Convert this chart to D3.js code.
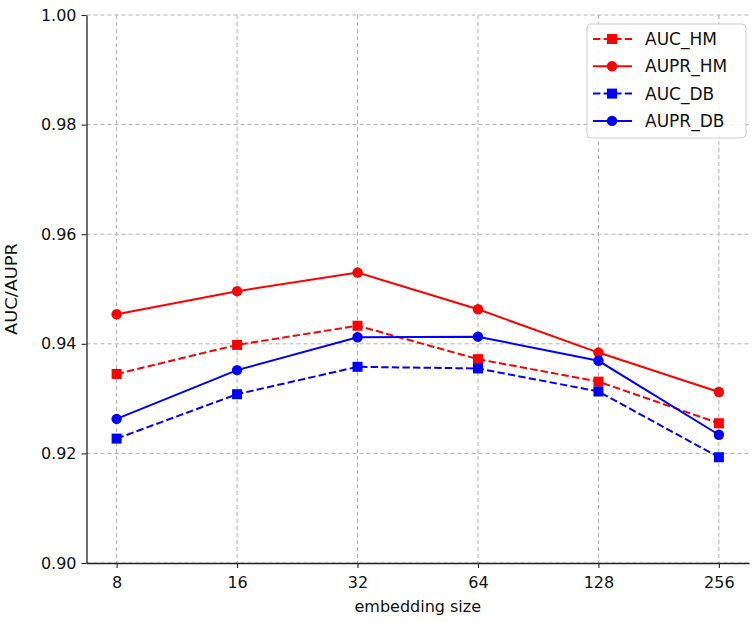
<!DOCTYPE html>
<html>
<head>
<meta charset="utf-8">
<script src="https://cdn.jsdelivr.net/npm/d3@7"></script>
<style>
  body { margin: 0; background: #fff; }
  svg { display: block; font-family: "DejaVu Sans", sans-serif; }
</style>
</head>
<body>
<svg id="chart" width="753" height="622"></svg>
<script>
// data
const sizes = ["8", "16", "32", "64", "128", "256"];
const aucHM = [0.9345, 0.9398, 0.9433, 0.9372, 0.9331, 0.9255];
const auprHM = [0.9454, 0.9496, 0.9530, 0.9463, 0.9384, 0.9312];
const aucDB = [0.9227, 0.9308, 0.9358, 0.9355, 0.9313, 0.9193];
const auprDB = [0.9263, 0.9352, 0.9412, 0.9413, 0.9369, 0.9234];
const yTicks = [0.90, 0.92, 0.94, 0.96, 0.98, 1.00];

const series = [
  { name: "AUC_HM", values: aucHM, color: "#ff0000", dashed: true, marker: "square" },
  { name: "AUPR_HM", values: auprHM, color: "#ff0000", dashed: false, marker: "circle" },
  { name: "AUC_DB", values: aucDB, color: "#0000ff", dashed: true, marker: "square" },
  { name: "AUPR_DB", values: auprDB, color: "#0000ff", dashed: false, marker: "circle" },
];

const svg = d3.select("#chart");
const margin = { top: 15, right: 4, bottom: 59, left: 86.5 };
const width = 753 - margin.left - margin.right;
const height = 622 - margin.top - margin.bottom;
const g = svg.append("g").attr("transform", `translate(${margin.left},${margin.top})`);

const x = d3.scaleLinear().domain([-0.25, 5.25]).range([0, width]);
const y = d3.scaleLinear().domain([0.90, 1.00]).range([height, 0]);

// grid
g.append("g")
  .selectAll("line.vg")
  .data(sizes)
  .enter()
  .append("line")
  .attr("x1", (d, i) => x(i))
  .attr("x2", (d, i) => x(i))
  .attr("y1", 0)
  .attr("y2", height)
  .attr("stroke", "#b0b0b0")
  .attr("stroke-width", 1)
  .attr("stroke-dasharray", "4,3");
g.append("g")
  .selectAll("line.hg")
  .data(yTicks)
  .enter()
  .append("line")
  .attr("x1", 0)
  .attr("x2", width)
  .attr("y1", (d) => y(d))
  .attr("y2", (d) => y(d))
  .attr("stroke", "#b0b0b0")
  .attr("stroke-width", 1)
  .attr("stroke-dasharray", "4,3");

// axes
const xAxis = g.append("g")
  .attr("transform", `translate(0,${height})`)
  .call(d3.axisBottom(x).tickValues(d3.range(sizes.length)).tickFormat((i) => sizes[i]).tickSize(5).tickSizeOuter(0));
const yAxis = g.append("g")
  .call(d3.axisLeft(y).tickValues(yTicks).tickFormat(d3.format(".2f")).tickSize(5).tickSizeOuter(0));

[xAxis, yAxis].forEach((ax) => {
  ax.select(".domain").attr("stroke", "#222").attr("stroke-width", 1.3);
  ax.selectAll(".tick line").attr("stroke", "#222").attr("stroke-width", 1.1);
  ax.selectAll(".tick text")
    .attr("fill", "#111")
    .style("font-size", "16px")
    .style("font-family", "DejaVu Sans, sans-serif");
});
xAxis.selectAll(".tick text").attr("dy", "0.95em").attr("y", 10);
yAxis.selectAll(".tick text").attr("x", -10);

// axis labels
svg.append("text")
  .attr("x", margin.left + x(2.5))
  .attr("y", 612)
  .attr("text-anchor", "middle")
  .style("font-size", "16px")
  .attr("fill", "#111")
  .text("embedding size");
svg.append("text")
  .attr("transform", "translate(17,289) rotate(-90)")
  .attr("text-anchor", "middle")
  .style("font-size", "15px")
  .attr("textLength", 92)
  .attr("lengthAdjust", "spacingAndGlyphs")
  .attr("fill", "#111")
  .text("AUC/AUPR");

// lines and markers
const line = d3.line().x((d, i) => x(i)).y((d) => y(d));

function drawMarker(sel, type, color, cx, cy) {
  if (type === "square") {
    sel.append("rect")
      .attr("x", cx - 5).attr("y", cy - 5)
      .attr("width", 10).attr("height", 10)
      .attr("fill", color);
  } else {
    sel.append("circle")
      .attr("cx", cx).attr("cy", cy).attr("r", 5.2)
      .attr("fill", color);
  }
}

series.forEach((s) => {
  g.append("path")
    .datum(s.values)
    .attr("d", line)
    .attr("fill", "none")
    .attr("stroke", s.color)
    .attr("stroke-width", 2)
    .attr("stroke-dasharray", s.dashed ? "7.4,3.2" : null);
  const mg = g.append("g");
  s.values.forEach((v, i) => drawMarker(mg, s.marker, s.color, x(i), y(v)));
});

// legend
const lg = svg.append("g").attr("transform", "translate(587,24)");
lg.append("rect")
  .attr("width", 159)
  .attr("height", 114)
  .attr("rx", 4)
  .attr("fill", "#fff")
  .attr("fill-opacity", 0.85)
  .attr("stroke", "#cccccc")
  .attr("stroke-width", 1);
series.forEach((s, i) => {
  const ry = 15 + i * 27.3;
  lg.append("line")
    .attr("x1", 6).attr("x2", 45)
    .attr("y1", ry).attr("y2", ry)
    .attr("stroke", s.color)
    .attr("stroke-width", 2)
    .attr("stroke-dasharray", s.dashed ? "7.4,3.2" : null);
  drawMarker(lg, s.marker, s.color, 25, ry);
  lg.append("text")
    .attr("x", 58)
    .attr("y", ry)
    .attr("dy", "0.36em")
    .style("font-size", "17px")
    .attr("fill", "#111")
    .text(s.name);
});
</script>
</body>
</html>
